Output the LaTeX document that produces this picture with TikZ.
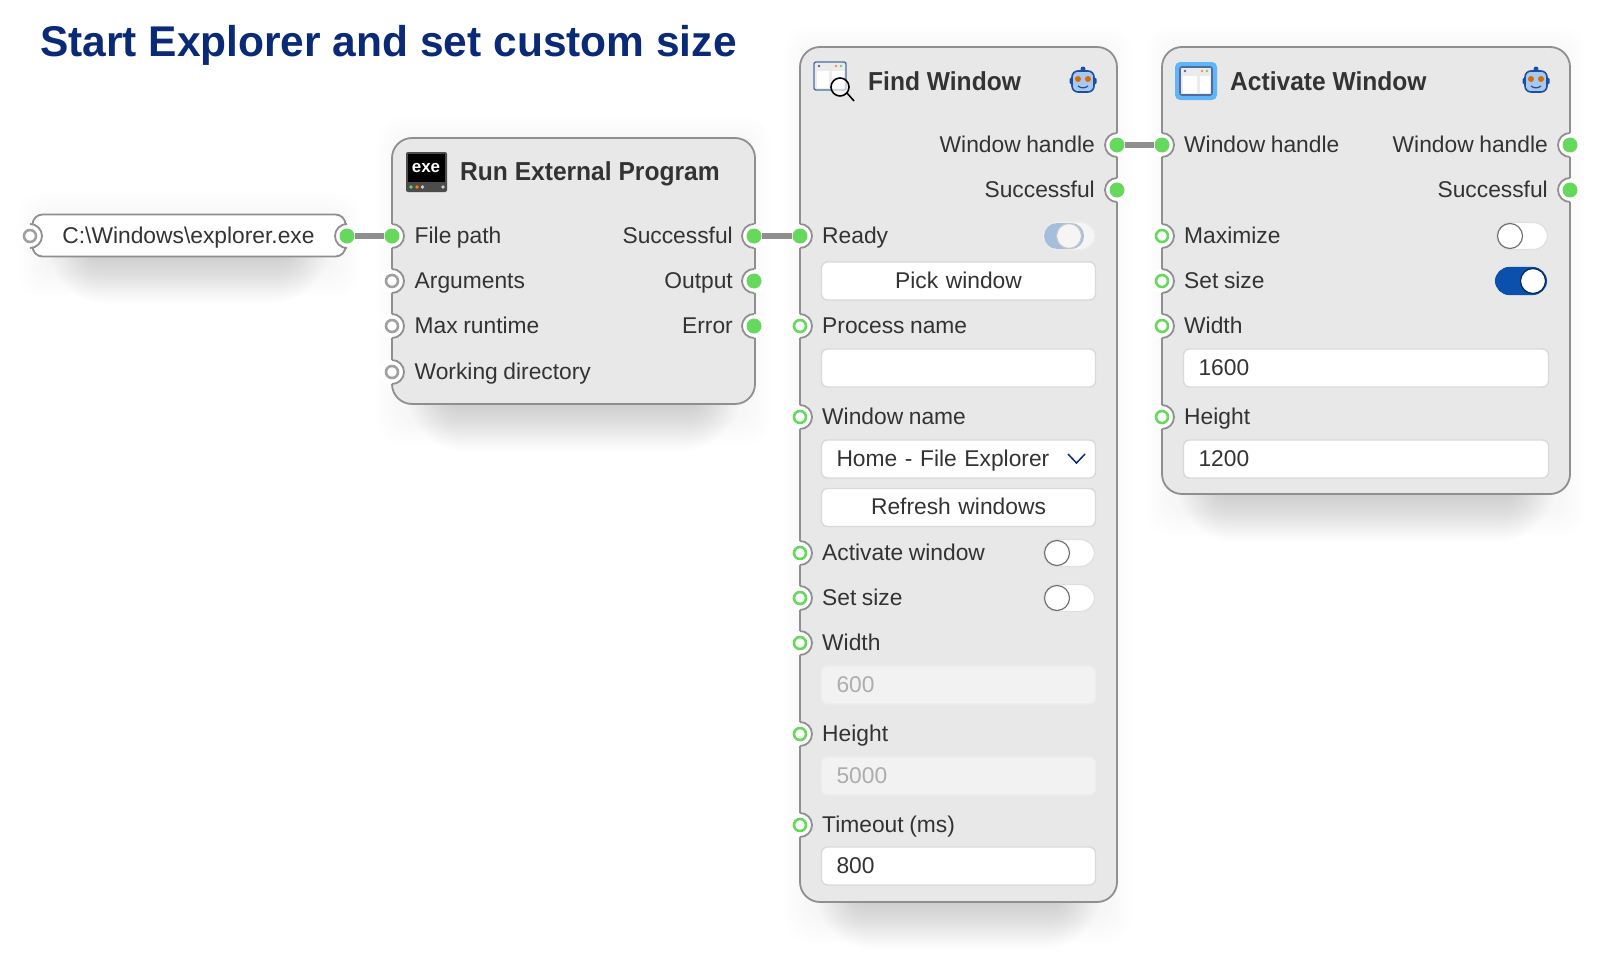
\documentclass[tikz,border=0pt]{standalone}
\usepackage{fontspec}
\setmainfont[WordSpace=0.88]{Liberation Sans}
\newfontfamily\headfont[FakeStretch=0.945]{Liberation Sans Bold}
\newfontfamily\titlefont[FakeStretch=0.988]{Liberation Sans Bold}
\usepackage{xcolor}
\definecolor{bodygray}{HTML}{E8E8E8}
\definecolor{edgegray}{HTML}{8F8F8F}
\definecolor{textgray}{HTML}{333333}
\definecolor{portgreen}{HTML}{66D95D}
\definecolor{titleblue}{HTML}{0A2A78}
\definecolor{switchblue}{HTML}{0B50AC}
\definecolor{switchfade}{HTML}{A6BEDD}
\definecolor{robotblue}{HTML}{1F4E9E}
\definecolor{robotface}{HTML}{A9C8F0}
\definecolor{iconblue}{HTML}{5FB5F7}
\definecolor{frameblue}{HTML}{4F6C9C}
\tikzset{
  bodybox/.style={draw=edgegray,line width=1.8pt,fill=bodygray,rounded corners=20pt,minimum width=#1,inner sep=0pt},
  plate/.style={draw=edgegray,line width=1.8pt,fill=white,rounded corners=10pt,minimum width=313pt,minimum height=42pt,inner sep=0pt},
  wire/.style={draw=edgegray,line width=5.5pt},
  linkport/.style={circle,fill=portgreen,minimum size=15pt,inner sep=0pt},
  inport/.style={circle,draw=portgreen,line width=2.6pt,fill=white,minimum size=12pt,inner sep=0pt},
  idleport/.style={circle,draw=edgegray!85,line width=2.6pt,fill=white,minimum size=12pt,inner sep=0pt},
  rowtext/.style={font=\fontsize{22.8}{27}\selectfont,text=textgray,inner sep=0pt},
  rowleft/.style={rowtext,anchor=base west},
  rowright/.style={rowtext,anchor=base east},
  headtext/.style={font=\fontsize{26}{32}\headfont,text=textgray,inner sep=0pt,anchor=base west},
  fieldbox/.style={rowtext,draw=black!15,line width=1.4pt,fill=white,rounded corners=6pt,minimum height=38pt,
    text height=16pt,text depth=2pt,text width=#1,inner xsep=15pt,align=left},
  pushbox/.style={fieldbox=#1,align=center},
  deadbox/.style={fieldbox=#1,fill=black!5,draw=black!7,text=black!32},
  switchoff/.style={draw=black!12,line width=1.2pt,fill=white,rounded corners=14pt,minimum width=51pt,minimum height=27pt,inner sep=0pt},
  switchon/.style={switchoff,draw=switchblue,fill=switchblue},
  switchdead/.style={switchoff,draw=black!6,fill=black!4},
  knob/.style={circle,draw=black!55,line width=1.2pt,fill=white,minimum size=25pt,inner sep=0pt},
  deadknob/.style={knob,draw=black!22,fill=black!4},
  notchleft/.pic={
    \fill[white] (0,0) circle (12pt);
    \draw[edgegray,line width=1.8pt] (0,-12) arc[start angle=90,end angle=-90,radius=12pt];
  },
  notchright/.pic={
    \fill[white] (0,0) circle (12pt);
    \draw[edgegray,line width=1.8pt] (0,-12) arc[start angle=90,end angle=270,radius=12pt];
  },
  robot/.pic={
    \fill[robotblue] (0,-12) circle (2.5pt);
    \fill[robotblue,rounded corners=1pt] (-13.5,-3) rectangle (13.5,3);
    \draw[robotblue,line width=1.6pt,fill=robotface,rounded corners=6pt] (-11,-10) rectangle (11,11);
    \fill[orange!85!black] (-5,-2) circle (3pt) (5,-2) circle (3pt);
    \draw[robotblue,line width=1.2pt] (-5,5) .. controls (-2,7.5) and (2,7.5) .. (5,5);
  }
}
\begin{document}
\begin{tikzpicture}[x=1pt,y=-1pt]
\useasboundingbox (0,0) rectangle (1600,953);
\node[font=\fontsize{43}{50}\titlefont,text=titleblue,inner sep=0pt,anchor=base west] (title) at (40,56) {Start Explorer and set custom size};

% shadows under the four blocks
\foreach \xa/\ya/\xb/\yb in {33/214/345/256,392/138/755/404,800/47/1117/902,1162/47/1570/495} {
  \foreach \i in {0,...,7}
    \fill[black,opacity=0.004,rounded corners=22pt] (\xa+6-3*\i,\ya-3*\i) rectangle (\xb-6+3*\i,\yb+20+3*\i);
  \foreach \i [evaluate=\i as \r using 14+2.5*\i] in {0,...,19}
    \fill[black,opacity=0.009,rounded corners=\r pt] (\xa+52-2*\i,\ya+6) rectangle (\xb-52+2*\i,\yb+2+2.4*\i);
}

% the blocks
\node[plate] (path) at (189,235.5) {};
\node[bodybox=363pt,minimum height=266pt] (run) at (573.5,271) {};
\node[bodybox=317pt,minimum height=855pt] (find) at (958.5,474.5) {};
\node[bodybox=408pt,minimum height=447pt] (activate) at (1366,270.5) {};
\node[rowtext,anchor=base] (pathtext) at (188.5,243.5) {C:\textbackslash Windows\textbackslash explorer.exe};
\pic at (30,236) {notchleft};
\pic at (347,236) {notchright};
\node[idleport] (pathin) at (30,236) {};
\node[linkport] (pathout) at (347,236) {};

% Run External Program
\node[headtext] (runhead) at (460,180.5) {Run External Program};
\foreach \n/\y/\t/\s in {runa/236/File path/linkport,runb/281/Arguments/idleport,runc/326/Max runtime/idleport,rund/372/Working directory/idleport} {
  \pic at (392,\y) {notchleft};
  \node[\s] (\n) at (392,\y) {};
  \node[rowleft] (\n t) at (414.5,\y+7.5) {\t};
}
\foreach \n/\y/\t in {runok/236/Successful,runout/281/Output,runerr/326/Error} {
  \pic at (754,\y) {notchright};
  \node[linkport] (\n) at (754,\y) {};
  \node[rowright] (\n t) at (733,\y+7.5) {\t};
}

% Find Window
\node[headtext] (findhead) at (868,90) {Find Window};
\foreach \n/\y/\t/\s in {finda/236/Ready/linkport,findb/326/Process name/inport,findc/417/Window name/inport,findd/553/Activate window/inport,finde/598/Set size/inport,findf/643/Width/inport,findg/734/Height/inport,findh/825/{Timeout (ms)}/inport} {
  \pic at (800,\y) {notchleft};
  \node[\s] (\n) at (800,\y) {};
  \node[rowleft] (\n t) at (822,\y+7.5) {\t};
}
\foreach \n/\y/\t in {findhd/145/Window handle,findok/190/Successful} {
  \pic at (1117,\y) {notchright};
  \node[linkport] (\n) at (1117,\y) {};
  \node[rowright] (\n t) at (1095,\y+7.5) {\t};
}
\node[pushbox=244pt] (pick) at (958.5,281) {Pick window};
\node[fieldbox=244pt] (procbox) at (958.5,368) {};
\node[fieldbox=244pt] (winbox) at (958.5,459) {Home - File Explorer};
\node[pushbox=244pt] (refresh) at (958.5,507.5) {Refresh windows};
\node[deadbox=244pt] (widthbox) at (958.5,685) {600};
\node[deadbox=244pt] (heightbox) at (958.5,776) {5000};
\node[fieldbox=244pt] (timebox) at (958.5,866) {800};
\draw[titleblue,line width=1.5pt] (1068,454) -- (1076.5,463) -- (1085,454);

% Activate Window
\node[headtext] (acthead) at (1230,90) {Activate Window};
\foreach \n/\y/\t/\s in {acta/145/Window handle/linkport,actb/236/Maximize/inport,actc/281/Set size/inport,actd/326/Width/inport,acte/417/Height/inport} {
  \pic at (1162,\y) {notchleft};
  \node[\s] (\n) at (1162,\y) {};
  \node[rowleft] (\n t) at (1184,\y+7.5) {\t};
}
\foreach \n/\y/\t in {acthd/145/Window handle,actok/190/Successful} {
  \pic at (1570,\y) {notchright};
  \node[linkport] (\n) at (1570,\y) {};
  \node[rowright] (\n t) at (1548,\y+7.5) {\t};
}
\node[fieldbox=335pt] (actwidth) at (1366,368) {1600};
\node[fieldbox=335pt] (actheight) at (1366,459) {1200};

% switches
\node[switchdead] (readysw) at (1069,236) {};
\fill[switchfade,rounded corners=13pt] (1044,223) rectangle (1084,249);
\node[deadknob] (readyknob) at (1069,236) {};
\foreach \n/\x/\y in {swa/1069/553,swb/1069/598,swc/1522/236} {
  \node[switchoff] (\n) at (\x,\y) {};
  \node[knob] (\n k) at (\x-12,\y) {};
}
\node[switchon] (swd) at (1521,281) {};
\node[knob,draw=black!50!switchblue] (swd k) at (1533,281) {};

% connectors
\draw[wire] (pathout) -- (runa);
\draw[wire] (runok) -- (finda);
\draw[wire] (findhd) -- (acta);

% icons
\fill[black!70,rounded corners=2pt] (406,152) rectangle (447,192);
\fill[black] (408,154) rectangle (445,182);
\node[font=\fontsize{17}{20}\selectfont\bfseries,text=white,inner sep=0pt] (exetext) at (426,168) {exe};
\fill[portgreen] (411,187) circle (1.8pt);
\fill[orange] (417,187) circle (1.8pt);
\fill[white!80!black] (422.5,187) circle (1.8pt) (443,187) circle (1.8pt);

\draw[frameblue,line width=1.4pt,fill=black!8,rounded corners=2pt] (814,62) rectangle (846,90);
\fill[white] (817,71) rectangle (829,88) (832,71) rectangle (844,88);
\fill[frameblue] (819,66) circle (1.4pt);
\fill[orange!70!red!70!white] (836,66) circle (1.4pt);
\fill[portgreen] (841,66) circle (1.4pt);
\draw[black,line width=1.6pt,fill=white,fill opacity=0.6] (840,87) circle (9pt);
\draw[black,line width=1.6pt] (847,93) -- (854,101);

\fill[iconblue,rounded corners=5pt] (1175,62) rectangle (1217,100);
\draw[frameblue,line width=1.6pt,fill=black!8,rounded corners=2pt] (1180,67) rectangle (1212,95);
\fill[white] (1183,76) rectangle (1197,93) (1200,76) rectangle (1210,93);
\fill[frameblue] (1185,71) circle (1.4pt);
\fill[orange!70!red!70!white] (1202,71) circle (1.4pt);
\fill[portgreen] (1207,71) circle (1.4pt);

\pic at (1083,81) {robot};
\pic at (1536,81) {robot};
\end{tikzpicture}
\end{document}
